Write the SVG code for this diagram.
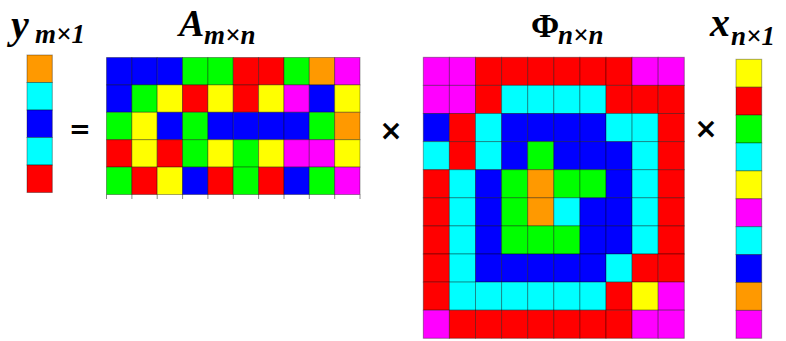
<svg xmlns="http://www.w3.org/2000/svg" width="786" height="341" viewBox="0 0 786 341">
<style>
.B{fill:#0000ff}.G{fill:#00ff00}.R{fill:#ff0000}.Y{fill:#ffff00}.O{fill:#ff9900}.M{fill:#ff00ff}.C{fill:#00ffff}
.cells rect{stroke:#000;stroke-opacity:0.35;stroke-width:1}
.lbl{font-family:"Liberation Serif",serif;font-weight:bold;font-style:italic;fill:#000}
.up{font-style:normal}
.op{font-family:"DejaVu Sans",sans-serif;font-weight:bold;fill:#000}
.tick{stroke:#888;stroke-width:1}
</style>
<g id="label-y"><text class="lbl" x="11" y="38" font-size="40">y</text><text class="lbl" x="35" y="43" font-size="27">m×1</text></g>
<g id="label-A"><text class="lbl" x="179" y="36" font-size="38">A</text><text class="lbl" x="204" y="44" font-size="27">m×n</text></g>
<g id="label-Phi"><text class="lbl up" x="531" y="37" font-size="34">Φ</text><text class="lbl" x="558" y="44" font-size="27">n×n</text></g>
<g id="label-x"><text class="lbl" x="710" y="36" font-size="40">x</text><text class="lbl" x="731" y="45" font-size="27">n×1</text></g>
<g id="operators">
<text class="op" x="80" y="138" font-size="26" text-anchor="middle">=</text>
<text class="op" x="391" y="140" font-size="28" text-anchor="middle">×</text>
<text class="op" x="706" y="138" font-size="28" text-anchor="middle">×</text>
</g>
<g id="y-vector" class="cells">
<rect class="O" x="27" y="55" width="25.3" height="27.5"/>
<rect class="C" x="27" y="82.5" width="25.3" height="27.5"/>
<rect class="B" x="27" y="110" width="25.3" height="27.5"/>
<rect class="C" x="27" y="137.5" width="25.3" height="27.5"/>
<rect class="R" x="27" y="165" width="25.3" height="27.5"/>
</g>
<g id="A-matrix" class="cells">
<g class="ticks">
<line class="tick" x1="106.5" y1="194.5" x2="106.5" y2="199"/><line class="tick" x1="131.9" y1="194.5" x2="131.9" y2="199"/><line class="tick" x1="157.2" y1="194.5" x2="157.2" y2="199"/><line class="tick" x1="182.6" y1="194.5" x2="182.6" y2="199"/><line class="tick" x1="207.9" y1="194.5" x2="207.9" y2="199"/><line class="tick" x1="233.3" y1="194.5" x2="233.3" y2="199"/><line class="tick" x1="258.6" y1="194.5" x2="258.6" y2="199"/><line class="tick" x1="284" y1="194.5" x2="284" y2="199"/><line class="tick" x1="309.3" y1="194.5" x2="309.3" y2="199"/><line class="tick" x1="334.7" y1="194.5" x2="334.7" y2="199"/><line class="tick" x1="360" y1="194.5" x2="360" y2="199"/>
</g>
<rect class="B" x="106.5" y="57.5" width="25.35" height="27.4"/><rect class="B" x="131.85" y="57.5" width="25.35" height="27.4"/><rect class="B" x="157.2" y="57.5" width="25.35" height="27.4"/><rect class="G" x="182.55" y="57.5" width="25.35" height="27.4"/><rect class="G" x="207.9" y="57.5" width="25.35" height="27.4"/><rect class="R" x="233.25" y="57.5" width="25.35" height="27.4"/><rect class="R" x="258.6" y="57.5" width="25.35" height="27.4"/><rect class="G" x="283.95" y="57.5" width="25.35" height="27.4"/><rect class="O" x="309.3" y="57.5" width="25.35" height="27.4"/><rect class="M" x="334.65" y="57.5" width="25.35" height="27.4"/>
<rect class="B" x="106.5" y="84.9" width="25.35" height="27.4"/><rect class="G" x="131.85" y="84.9" width="25.35" height="27.4"/><rect class="Y" x="157.2" y="84.9" width="25.35" height="27.4"/><rect class="R" x="182.55" y="84.9" width="25.35" height="27.4"/><rect class="Y" x="207.9" y="84.9" width="25.35" height="27.4"/><rect class="R" x="233.25" y="84.9" width="25.35" height="27.4"/><rect class="Y" x="258.6" y="84.9" width="25.35" height="27.4"/><rect class="M" x="283.95" y="84.9" width="25.35" height="27.4"/><rect class="B" x="309.3" y="84.9" width="25.35" height="27.4"/><rect class="Y" x="334.65" y="84.9" width="25.35" height="27.4"/>
<rect class="G" x="106.5" y="112.3" width="25.35" height="27.4"/><rect class="Y" x="131.85" y="112.3" width="25.35" height="27.4"/><rect class="B" x="157.2" y="112.3" width="25.35" height="27.4"/><rect class="G" x="182.55" y="112.3" width="25.35" height="27.4"/><rect class="B" x="207.9" y="112.3" width="25.35" height="27.4"/><rect class="B" x="233.25" y="112.3" width="25.35" height="27.4"/><rect class="B" x="258.6" y="112.3" width="25.35" height="27.4"/><rect class="B" x="283.95" y="112.3" width="25.35" height="27.4"/><rect class="G" x="309.3" y="112.3" width="25.35" height="27.4"/><rect class="O" x="334.65" y="112.3" width="25.35" height="27.4"/>
<rect class="R" x="106.5" y="139.7" width="25.35" height="27.4"/><rect class="Y" x="131.85" y="139.7" width="25.35" height="27.4"/><rect class="R" x="157.2" y="139.7" width="25.35" height="27.4"/><rect class="G" x="182.55" y="139.7" width="25.35" height="27.4"/><rect class="Y" x="207.9" y="139.7" width="25.35" height="27.4"/><rect class="G" x="233.25" y="139.7" width="25.35" height="27.4"/><rect class="Y" x="258.6" y="139.7" width="25.35" height="27.4"/><rect class="M" x="283.95" y="139.7" width="25.35" height="27.4"/><rect class="M" x="309.3" y="139.7" width="25.35" height="27.4"/><rect class="Y" x="334.65" y="139.7" width="25.35" height="27.4"/>
<rect class="G" x="106.5" y="167.1" width="25.35" height="27.4"/><rect class="R" x="131.85" y="167.1" width="25.35" height="27.4"/><rect class="Y" x="157.2" y="167.1" width="25.35" height="27.4"/><rect class="B" x="182.55" y="167.1" width="25.35" height="27.4"/><rect class="R" x="207.9" y="167.1" width="25.35" height="27.4"/><rect class="G" x="233.25" y="167.1" width="25.35" height="27.4"/><rect class="R" x="258.6" y="167.1" width="25.35" height="27.4"/><rect class="B" x="283.95" y="167.1" width="25.35" height="27.4"/><rect class="G" x="309.3" y="167.1" width="25.35" height="27.4"/><rect class="M" x="334.65" y="167.1" width="25.35" height="27.4"/>
</g>
<g id="Phi-matrix" class="cells">
<rect class="M" x="423.3" y="57.3" width="26.1" height="28.1"/><rect class="M" x="449.4" y="57.3" width="26.1" height="28.1"/><rect class="R" x="475.5" y="57.3" width="26.1" height="28.1"/><rect class="R" x="501.6" y="57.3" width="26.1" height="28.1"/><rect class="R" x="527.7" y="57.3" width="26.1" height="28.1"/><rect class="R" x="553.8" y="57.3" width="26.1" height="28.1"/><rect class="R" x="579.9" y="57.3" width="26.1" height="28.1"/><rect class="R" x="606" y="57.3" width="26.1" height="28.1"/><rect class="M" x="632.1" y="57.3" width="26.1" height="28.1"/><rect class="M" x="658.2" y="57.3" width="26.1" height="28.1"/>
<rect class="M" x="423.3" y="85.4" width="26.1" height="28.1"/><rect class="M" x="449.4" y="85.4" width="26.1" height="28.1"/><rect class="R" x="475.5" y="85.4" width="26.1" height="28.1"/><rect class="C" x="501.6" y="85.4" width="26.1" height="28.1"/><rect class="C" x="527.7" y="85.4" width="26.1" height="28.1"/><rect class="C" x="553.8" y="85.4" width="26.1" height="28.1"/><rect class="C" x="579.9" y="85.4" width="26.1" height="28.1"/><rect class="R" x="606" y="85.4" width="26.1" height="28.1"/><rect class="R" x="632.1" y="85.4" width="26.1" height="28.1"/><rect class="R" x="658.2" y="85.4" width="26.1" height="28.1"/>
<rect class="B" x="423.3" y="113.5" width="26.1" height="28.1"/><rect class="R" x="449.4" y="113.5" width="26.1" height="28.1"/><rect class="C" x="475.5" y="113.5" width="26.1" height="28.1"/><rect class="B" x="501.6" y="113.5" width="26.1" height="28.1"/><rect class="B" x="527.7" y="113.5" width="26.1" height="28.1"/><rect class="B" x="553.8" y="113.5" width="26.1" height="28.1"/><rect class="B" x="579.9" y="113.5" width="26.1" height="28.1"/><rect class="C" x="606" y="113.5" width="26.1" height="28.1"/><rect class="C" x="632.1" y="113.5" width="26.1" height="28.1"/><rect class="R" x="658.2" y="113.5" width="26.1" height="28.1"/>
<rect class="C" x="423.3" y="141.6" width="26.1" height="28.1"/><rect class="R" x="449.4" y="141.6" width="26.1" height="28.1"/><rect class="C" x="475.5" y="141.6" width="26.1" height="28.1"/><rect class="B" x="501.6" y="141.6" width="26.1" height="28.1"/><rect class="G" x="527.7" y="141.6" width="26.1" height="28.1"/><rect class="B" x="553.8" y="141.6" width="26.1" height="28.1"/><rect class="B" x="579.9" y="141.6" width="26.1" height="28.1"/><rect class="B" x="606" y="141.6" width="26.1" height="28.1"/><rect class="C" x="632.1" y="141.6" width="26.1" height="28.1"/><rect class="R" x="658.2" y="141.6" width="26.1" height="28.1"/>
<rect class="R" x="423.3" y="169.7" width="26.1" height="28.1"/><rect class="C" x="449.4" y="169.7" width="26.1" height="28.1"/><rect class="B" x="475.5" y="169.7" width="26.1" height="28.1"/><rect class="G" x="501.6" y="169.7" width="26.1" height="28.1"/><rect class="O" x="527.7" y="169.7" width="26.1" height="28.1"/><rect class="G" x="553.8" y="169.7" width="26.1" height="28.1"/><rect class="G" x="579.9" y="169.7" width="26.1" height="28.1"/><rect class="B" x="606" y="169.7" width="26.1" height="28.1"/><rect class="C" x="632.1" y="169.7" width="26.1" height="28.1"/><rect class="R" x="658.2" y="169.7" width="26.1" height="28.1"/>
<rect class="R" x="423.3" y="197.8" width="26.1" height="28.1"/><rect class="C" x="449.4" y="197.8" width="26.1" height="28.1"/><rect class="B" x="475.5" y="197.8" width="26.1" height="28.1"/><rect class="G" x="501.6" y="197.8" width="26.1" height="28.1"/><rect class="O" x="527.7" y="197.8" width="26.1" height="28.1"/><rect class="C" x="553.8" y="197.8" width="26.1" height="28.1"/><rect class="B" x="579.9" y="197.8" width="26.1" height="28.1"/><rect class="B" x="606" y="197.8" width="26.1" height="28.1"/><rect class="C" x="632.1" y="197.8" width="26.1" height="28.1"/><rect class="R" x="658.2" y="197.8" width="26.1" height="28.1"/>
<rect class="R" x="423.3" y="225.9" width="26.1" height="28.1"/><rect class="C" x="449.4" y="225.9" width="26.1" height="28.1"/><rect class="B" x="475.5" y="225.9" width="26.1" height="28.1"/><rect class="G" x="501.6" y="225.9" width="26.1" height="28.1"/><rect class="G" x="527.7" y="225.9" width="26.1" height="28.1"/><rect class="G" x="553.8" y="225.9" width="26.1" height="28.1"/><rect class="B" x="579.9" y="225.9" width="26.1" height="28.1"/><rect class="B" x="606" y="225.9" width="26.1" height="28.1"/><rect class="C" x="632.1" y="225.9" width="26.1" height="28.1"/><rect class="R" x="658.2" y="225.9" width="26.1" height="28.1"/>
<rect class="R" x="423.3" y="254" width="26.1" height="28.1"/><rect class="C" x="449.4" y="254" width="26.1" height="28.1"/><rect class="B" x="475.5" y="254" width="26.1" height="28.1"/><rect class="B" x="501.6" y="254" width="26.1" height="28.1"/><rect class="B" x="527.7" y="254" width="26.1" height="28.1"/><rect class="B" x="553.8" y="254" width="26.1" height="28.1"/><rect class="B" x="579.9" y="254" width="26.1" height="28.1"/><rect class="C" x="606" y="254" width="26.1" height="28.1"/><rect class="R" x="632.1" y="254" width="26.1" height="28.1"/><rect class="R" x="658.2" y="254" width="26.1" height="28.1"/>
<rect class="R" x="423.3" y="282.1" width="26.1" height="28.1"/><rect class="C" x="449.4" y="282.1" width="26.1" height="28.1"/><rect class="C" x="475.5" y="282.1" width="26.1" height="28.1"/><rect class="C" x="501.6" y="282.1" width="26.1" height="28.1"/><rect class="C" x="527.7" y="282.1" width="26.1" height="28.1"/><rect class="C" x="553.8" y="282.1" width="26.1" height="28.1"/><rect class="C" x="579.9" y="282.1" width="26.1" height="28.1"/><rect class="R" x="606" y="282.1" width="26.1" height="28.1"/><rect class="Y" x="632.1" y="282.1" width="26.1" height="28.1"/><rect class="M" x="658.2" y="282.1" width="26.1" height="28.1"/>
<rect class="M" x="423.3" y="310.2" width="26.1" height="28.1"/><rect class="R" x="449.4" y="310.2" width="26.1" height="28.1"/><rect class="R" x="475.5" y="310.2" width="26.1" height="28.1"/><rect class="R" x="501.6" y="310.2" width="26.1" height="28.1"/><rect class="R" x="527.7" y="310.2" width="26.1" height="28.1"/><rect class="R" x="553.8" y="310.2" width="26.1" height="28.1"/><rect class="R" x="579.9" y="310.2" width="26.1" height="28.1"/><rect class="R" x="606" y="310.2" width="26.1" height="28.1"/><rect class="M" x="632.1" y="310.2" width="26.1" height="28.1"/><rect class="M" x="658.2" y="310.2" width="26.1" height="28.1"/>
</g>
<g id="x-vector" class="cells">
<rect class="Y" x="736" y="59.3" width="25.7" height="27.9"/>
<rect class="R" x="736" y="87.2" width="25.7" height="27.9"/>
<rect class="G" x="736" y="115.1" width="25.7" height="27.9"/>
<rect class="C" x="736" y="143" width="25.7" height="27.9"/>
<rect class="Y" x="736" y="170.9" width="25.7" height="27.9"/>
<rect class="M" x="736" y="198.8" width="25.7" height="27.9"/>
<rect class="C" x="736" y="226.7" width="25.7" height="27.9"/>
<rect class="B" x="736" y="254.6" width="25.7" height="27.9"/>
<rect class="O" x="736" y="282.5" width="25.7" height="27.9"/>
<rect class="M" x="736" y="310.4" width="25.7" height="27.9"/>
</g>
</svg>
